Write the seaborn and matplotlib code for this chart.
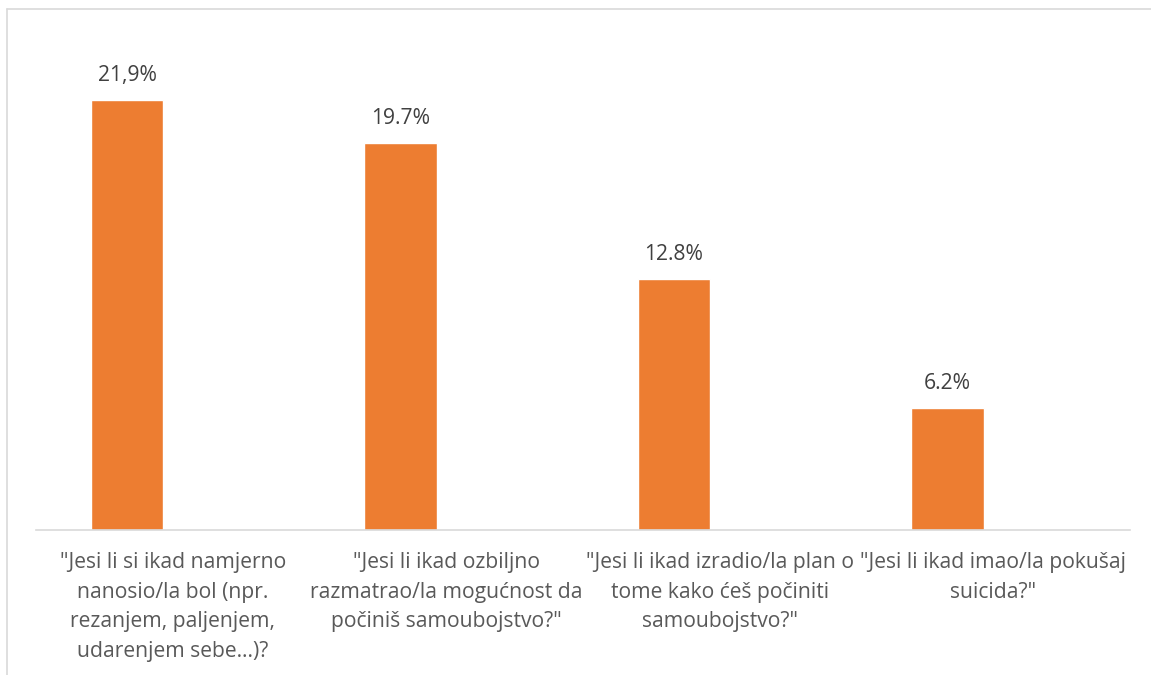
import matplotlib
matplotlib.use("Agg")
import matplotlib.pyplot as plt
from matplotlib.lines import Line2D
import seaborn as sns
import pandas as pd

categories = [
    '"Jesi li si ikad namjerno\nnanosio/la bol (npr.\nrezanjem, paljenjem,\nudarenjem sebe…)?',
    '"Jesi li ikad ozbiljno\nrazmatrao/la mogućnost da\npočiniš samoubojstvo?"',
    '"Jesi li ikad izradio/la plan o\ntome kako ćeš počiniti\nsamoubojstvo?"',
    '"Jesi li ikad imao/la pokušaj\nsuicida?"',
]
values = [21.9, 19.7, 12.8, 6.2]
value_labels = ["21,9%", "19.7%", "12.8%", "6.2%"]
series = ["Da"] * 4

sns.set_theme(style="white")
plt.rcParams["font.family"] = ["Open Sans", "DejaVu Sans"]

W, H = 1151, 675
fig = plt.figure(figsize=(W / 100, H / 100), dpi=100)
px_per_unit = 19.63
ymax = 25.0
ax_h = ymax * px_per_unit
ax = fig.add_axes([36 / W, (H - 530) / H, (1130 - 36) / W, ax_h / H])

df = pd.DataFrame({"cat": categories, "val": values, "series": series})
sns.barplot(data=df, x="cat", y="val", hue="series", hue_order=["Da", "_empty"],
            palette={"Da": "#ED7D31", "_empty": "#A5A5A5"}, width=0.669, gap=0.208,
            dodge=True, legend=False, ax=ax, saturation=1, errorbar=None)

ax.set_xlim(-0.5, 3.5)
ax.set_ylim(0, ymax)
ax.set_xlabel("")
ax.set_ylabel("")
ax.set_yticks([])
for s in ["top", "right", "left"]:
    ax.spines[s].set_visible(False)
ax.spines["bottom"].set_color("#D9D9D9")
ax.spines["bottom"].set_linewidth(1.2)
ax.tick_params(axis="x", length=0, pad=16, labelsize=15.2, labelcolor="#595959")
for t in ax.get_xticklabels():
    t.set_linespacing(1.53)

ax.bar_label(ax.containers[0], labels=value_labels, padding=10, fontsize=15.2, color="#404040")

fig.add_artist(Line2D([7.5 / W, 7.5 / W], [0, 1 - 8.5 / H], color="#D9D9D9", lw=1.2))
fig.add_artist(Line2D([7.5 / W, 1], [1 - 8.5 / H, 1 - 8.5 / H], color="#D9D9D9", lw=1.2))

fig.savefig("out.png", dpi=100, facecolor="white")
